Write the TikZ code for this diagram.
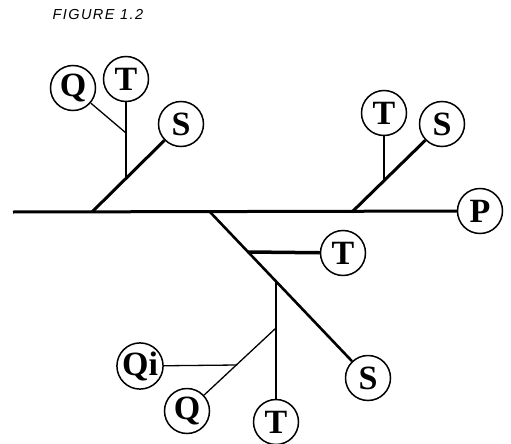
\documentclass[tikz,border=0pt]{standalone}
\usepackage{fontspec}
\setmainfont{Liberation Serif}
\newfontfamily\titlefont[LetterSpace=10]{Liberation Sans}
\begin{document}
\begin{tikzpicture}[x=1pt,y=-1pt,
  leaf/.style={circle,draw,line width=1.5pt,minimum size=45pt,inner sep=0pt,
    font=\bfseries\fontsize{34}{34}\selectfont},
  heavy/.style={line width=3pt},
  medium/.style={line width=2pt},
  light/.style={line width=1.3pt}]
\useasboundingbox (0,0) rectangle (511,444);

\node[anchor=west,font=\titlefont\itshape\fontsize{14.5}{14.5}\selectfont] (title) at (49,15) {FIGURE 1.2};

% circled labels
\node[leaf] (P)  at (480,211) {P};
\node[leaf] (Q1) at (73,88)   {Q};
\node[leaf] (T1) at (126,79)  {T};
\node[leaf] (S1) at (181,124) {S};
\node[leaf] (T2) at (384,113) {T};
\node[leaf] (S2) at (442,124) {S};
\node[leaf] (T3) at (343,253) {T};
\node[leaf] (S3) at (368,378) {S};
\node[leaf] (Qi) at (140,366) {Qi};
\node[leaf] (Q4) at (187,411) {Q};
\node[leaf] (T4) at (276,422) {T};

% junction points
\coordinate (m0) at (13,212);
\coordinate (a1) at (92,212);
\coordinate (a2) at (352,212);
\coordinate (a3) at (210,212);
\coordinate (j1) at (126,178);
\coordinate (k1) at (126,133);
\coordinate (j2) at (384,180);
\coordinate (j3) at (248,252);
\coordinate (j4) at (276,281);
\coordinate (j5) at (276,328);
\coordinate (j6) at (237,365);

% main axis
\draw[heavy] (m0) -- (P);

% upper left
\draw[heavy] (a1) -- (S1);
\draw[medium] (j1) -- (T1);
\draw[light] (k1) -- (Q1);

% upper right
\draw[heavy] (a2) -- (S2);
\draw[medium] (j2) -- (T2);

% lower branch
\draw[line width=2.6pt] (a3) -- (S3);
\draw[line width=3.5pt] (j3) -- (T3);
\draw[medium] (j4) -- (T4);
\draw[light] (j5) -- (Q4);
\draw[light] (j6) -- (Qi);
\end{tikzpicture}
\end{document}
